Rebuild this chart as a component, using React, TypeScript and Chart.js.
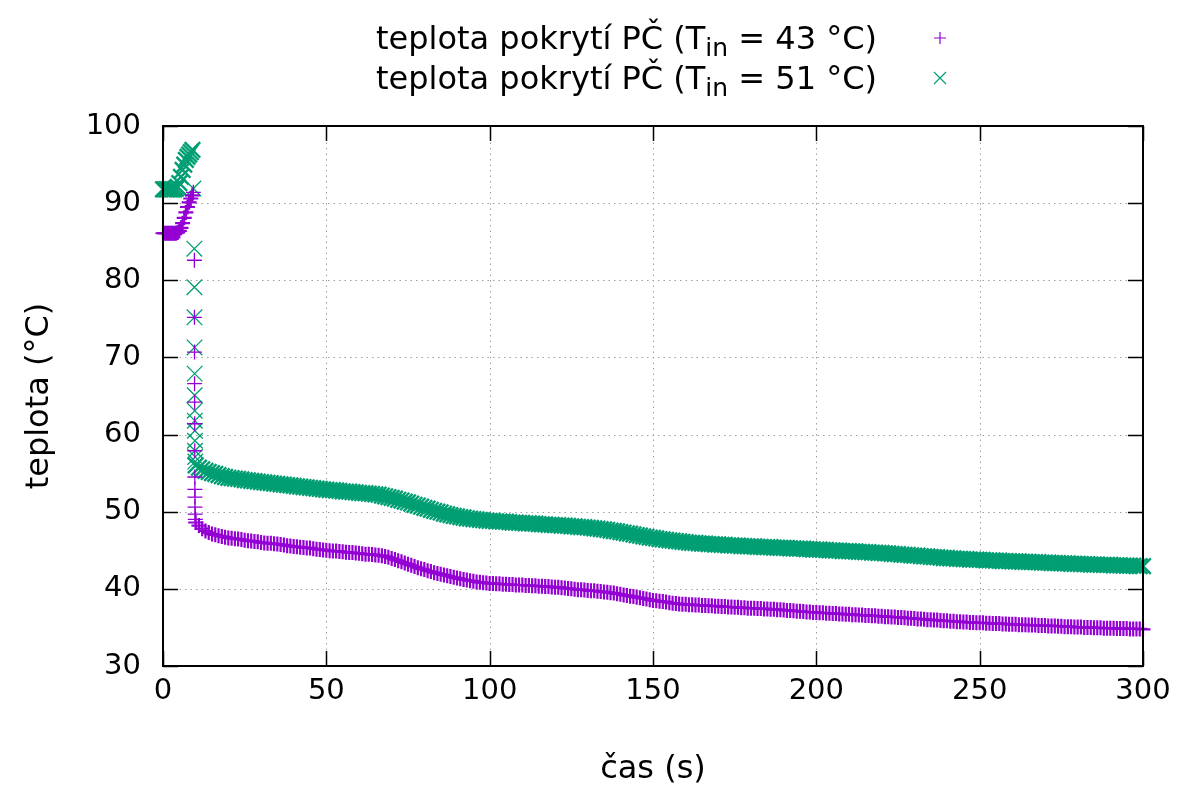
import React, { useEffect, useRef } from 'react';
import { Chart, registerables } from 'chart.js';

Chart.register(...registerables);

const FONT_FAMILY = '"DejaVu Sans", sans-serif';
const TICK_SIZE = 29;
const TEXT_SIZE = 32;

const COLOR_43 = '#9400d3';
const COLOR_51 = '#009e73';

const seriesLabels = [
  { pre: 'teplota pokrytí PČ (T', sub: 'in', post: ' = 43 °C)' },
  { pre: 'teplota pokrytí PČ (T', sub: 'in', post: ' = 51 °C)' },
];

const xTitle = 'čas (s)';
const yTitle = 'teplota (°C)';

const xTicks = [0, 50, 100, 150, 200, 250, 300];
const yTicks = [30, 40, 50, 60, 70, 80, 90, 100];

// time (s) before the drop
const earlyTimes = [0, 0.5, 1, 1.5, 2, 2.5, 3, 3.5, 4, 4.5, 5, 5.5, 6, 6.5, 7, 7.5, 8, 8.5, 9];
// time (s) of the fast drop
const dropTimes = [9.3, 9.6, 9.62, 9.64, 9.66, 9.68, 9.7, 9.72, 9.74, 9.76, 9.78, 9.8, 9.85, 9.9];
// time (s) after the drop
const mainTimes = [
  10, 11, 12, 13, 14, 15, 16, 17, 18, 19,
  20, 21, 22, 23, 24, 25, 26, 27, 28, 29,
  30, 31, 32, 33, 34, 35, 36, 37, 38, 39,
  40, 41, 42, 43, 44, 45, 46, 47, 48, 49,
  50, 51, 52, 53, 54, 55, 56, 57, 58, 59,
  60, 61, 62, 63, 64, 65, 66, 67, 68, 69,
  70, 71, 72, 73, 74, 75, 76, 77, 78, 79,
  80, 81, 82, 83, 84, 85, 86, 87, 88, 89,
  90, 91, 92, 93, 94, 95, 96, 97, 98, 99,
  100, 101, 102, 103, 104, 105, 106, 107, 108, 109,
  110, 111, 112, 113, 114, 115, 116, 117, 118, 119,
  120, 121, 122, 123, 124, 125, 126, 127, 128, 129,
  130, 131, 132, 133, 134, 135, 136, 137, 138, 139,
  140, 141, 142, 143, 144, 145, 146, 147, 148, 149,
  150, 151, 152, 153, 154, 155, 156, 157, 158, 159,
  160, 161, 162, 163, 164, 165, 166, 167, 168, 169,
  170, 171, 172, 173, 174, 175, 176, 177, 178, 179,
  180, 181, 182, 183, 184, 185, 186, 187, 188, 189,
  190, 191, 192, 193, 194, 195, 196, 197, 198, 199,
  200, 201, 202, 203, 204, 205, 206, 207, 208, 209,
  210, 211, 212, 213, 214, 215, 216, 217, 218, 219,
  220, 221, 222, 223, 224, 225, 226, 227, 228, 229,
  230, 231, 232, 233, 234, 235, 236, 237, 238, 239,
  240, 241, 242, 243, 244, 245, 246, 247, 248, 249,
  250, 251, 252, 253, 254, 255, 256, 257, 258, 259,
  260, 261, 262, 263, 264, 265, 266, 267, 268, 269,
  270, 271, 272, 273, 274, 275, 276, 277, 278, 279,
  280, 281, 282, 283, 284, 285, 286, 287, 288, 289,
  290, 291, 292, 293, 294, 295, 296, 297, 298, 299,
  300,
];

// T_in = 43 °C
const early43 = [86.1, 86.1, 86.1, 86.1, 86.1, 86.1, 86.1, 86.1, 86.1, 86.2, 86.4, 86.8, 87.4, 88.1, 88.8, 89.5, 90.1, 90.6, 91.0];
const drop43 = [91.4, 82.6, 75.2, 70.7, 66.6, 64.2, 61.4, 57.9, 54.5, 52.9, 51.9, 50.6, 49.7, 49.0];
const main43 = [
  48.6, 48.2, 47.8, 47.5, 47.3, 47.1, 47.0, 46.9, 46.8, 46.7,
  46.6, 46.55, 46.5, 46.45, 46.4, 46.3, 46.25, 46.2, 46.15, 46.1,
  46.0, 45.95, 45.9, 45.9, 45.85, 45.8, 45.75, 45.7, 45.6, 45.55,
  45.5, 45.45, 45.4, 45.35, 45.3, 45.3, 45.2, 45.15, 45.1, 45.05,
  45.0, 44.95, 44.9, 44.9, 44.85, 44.8, 44.75, 44.7, 44.7, 44.65,
  44.6, 44.55, 44.5, 44.5, 44.45, 44.4, 44.35, 44.3, 44.2, 44.1,
  43.95, 43.8, 43.65, 43.5, 43.35, 43.2, 43.05, 42.9, 42.75, 42.6,
  42.5, 42.35, 42.25, 42.1, 42.0, 41.9, 41.8, 41.7, 41.6, 41.5,
  41.4, 41.3, 41.2, 41.15, 41.05, 41.0, 40.9, 40.85, 40.8, 40.75,
  40.7, 40.7, 40.65, 40.65, 40.6, 40.6, 40.55, 40.55, 40.5, 40.5,
  40.5, 40.45, 40.45, 40.4, 40.4, 40.35, 40.35, 40.3, 40.3, 40.25,
  40.2, 40.2, 40.15, 40.1, 40.05, 40.0, 39.95, 39.9, 39.9, 39.85,
  39.8, 39.75, 39.75, 39.7, 39.65, 39.6, 39.55, 39.5, 39.45, 39.35,
  39.3, 39.2, 39.15, 39.05, 39.0, 38.9, 38.85, 38.75, 38.7, 38.6,
  38.5, 38.45, 38.4, 38.35, 38.3, 38.2, 38.15, 38.1, 38.05, 38.0,
  38.0, 37.95, 37.95, 37.9, 37.9, 37.85, 37.85, 37.8, 37.8, 37.75,
  37.75, 37.7, 37.7, 37.65, 37.65, 37.6, 37.6, 37.55, 37.55, 37.5,
  37.5, 37.5, 37.45, 37.45, 37.4, 37.4, 37.35, 37.35, 37.3, 37.3,
  37.25, 37.2, 37.2, 37.15, 37.1, 37.1, 37.05, 37.0, 37.0, 36.95,
  36.95, 36.9, 36.9, 36.85, 36.85, 36.8, 36.8, 36.75, 36.75, 36.7,
  36.7, 36.65, 36.65, 36.6, 36.6, 36.55, 36.55, 36.5, 36.5, 36.45,
  36.45, 36.4, 36.4, 36.35, 36.35, 36.3, 36.3, 36.25, 36.2, 36.2,
  36.15, 36.1, 36.1, 36.05, 36.0, 36.0, 35.95, 35.95, 35.9, 35.85,
  35.85, 35.8, 35.8, 35.75, 35.75, 35.7, 35.7, 35.65, 35.65, 35.6,
  35.6, 35.6, 35.55, 35.55, 35.5, 35.5, 35.5, 35.45, 35.45, 35.4,
  35.4, 35.4, 35.35, 35.35, 35.35, 35.3, 35.3, 35.3, 35.25, 35.25,
  35.25, 35.2, 35.2, 35.2, 35.15, 35.15, 35.1, 35.1, 35.1, 35.05,
  35.05, 35.05, 35.0, 35.0, 35.0, 34.95, 34.95, 34.95, 34.9, 34.9,
  34.9, 34.9, 34.85, 34.85, 34.85, 34.85, 34.8, 34.8, 34.8, 34.8,
  34.75,
];

// T_in = 51 °C
const early51 = [91.8, 91.8, 91.8, 91.8, 91.8, 91.8, 91.8, 91.8, 91.9, 92.1, 92.6, 93.4, 94.3, 95.0, 95.6, 96.0, 96.3, 96.6, 96.9];
const drop51 = [91.9, 84.1, 79.1, 75.2, 71.3, 67.9, 65.1, 63.1, 61.8, 60.5, 59.2, 57.9, 57.1, 56.5];
const main51 = [
  56.0, 55.7, 55.5, 55.3, 55.15, 55.0, 54.9, 54.75, 54.6, 54.5,
  54.4, 54.35, 54.3, 54.25, 54.2, 54.1, 54.05, 54.0, 53.95, 53.9,
  53.85, 53.8, 53.75, 53.7, 53.65, 53.6, 53.55, 53.5, 53.45, 53.4,
  53.35, 53.3, 53.25, 53.2, 53.15, 53.1, 53.05, 53.0, 52.95, 52.9,
  52.85, 52.8, 52.8, 52.75, 52.7, 52.65, 52.6, 52.6, 52.55, 52.5,
  52.45, 52.4, 52.4, 52.35, 52.3, 52.25, 52.2, 52.1, 52.0, 51.9,
  51.8, 51.7, 51.55, 51.45, 51.3, 51.2, 51.05, 50.9, 50.8, 50.65,
  50.5, 50.4, 50.25, 50.1, 50.0, 49.9, 49.75, 49.65, 49.55, 49.45,
  49.4, 49.3, 49.25, 49.15, 49.1, 49.05, 49.0, 48.95, 48.9, 48.85,
  48.8, 48.8, 48.75, 48.75, 48.7, 48.7, 48.65, 48.6, 48.6, 48.55,
  48.55, 48.5, 48.5, 48.45, 48.45, 48.4, 48.35, 48.35, 48.3, 48.3,
  48.25, 48.25, 48.2, 48.2, 48.15, 48.1, 48.1, 48.05, 48.0, 48.0,
  47.95, 47.9, 47.85, 47.8, 47.75, 47.7, 47.65, 47.55, 47.5, 47.45,
  47.35, 47.3, 47.2, 47.15, 47.05, 46.95, 46.9, 46.8, 46.75, 46.65,
  46.6, 46.55, 46.45, 46.4, 46.35, 46.3, 46.25, 46.2, 46.15, 46.1,
  46.05, 46.0, 45.95, 45.95, 45.9, 45.85, 45.85, 45.8, 45.8, 45.75,
  45.75, 45.7, 45.7, 45.65, 45.65, 45.6, 45.6, 45.55, 45.55, 45.5,
  45.5, 45.5, 45.45, 45.45, 45.4, 45.4, 45.4, 45.35, 45.35, 45.3,
  45.3, 45.3, 45.25, 45.25, 45.2, 45.2, 45.2, 45.15, 45.15, 45.1,
  45.1, 45.1, 45.05, 45.05, 45.0, 45.0, 44.95, 44.95, 44.9, 44.9,
  44.9, 44.85, 44.85, 44.8, 44.8, 44.75, 44.75, 44.7, 44.7, 44.65,
  44.65, 44.6, 44.6, 44.55, 44.5, 44.5, 44.45, 44.4, 44.4, 44.35,
  44.3, 44.3, 44.25, 44.2, 44.2, 44.15, 44.1, 44.1, 44.05, 44.0,
  44.0, 43.95, 43.95, 43.9, 43.9, 43.85, 43.85, 43.8, 43.8, 43.8,
  43.75, 43.75, 43.7, 43.7, 43.7, 43.65, 43.65, 43.6, 43.6, 43.6,
  43.55, 43.55, 43.55, 43.5, 43.5, 43.5, 43.45, 43.45, 43.45, 43.4,
  43.4, 43.4, 43.35, 43.35, 43.35, 43.3, 43.3, 43.3, 43.25, 43.25,
  43.25, 43.2, 43.2, 43.2, 43.15, 43.15, 43.15, 43.1, 43.1, 43.1,
  43.1, 43.05, 43.05, 43.05, 43.0, 43.0, 43.0, 43.0, 42.95, 42.95,
  42.95,
];

function toPoints(times: number[], values: number[]) {
  return times.map((t, i) => ({ x: t, y: values[i] }));
}

const points43 = [
  ...toPoints(earlyTimes, early43),
  ...toPoints(dropTimes, drop43),
  ...toPoints(mainTimes, main43),
];
const points51 = [
  ...toPoints(earlyTimes, early51),
  ...toPoints(dropTimes, drop51),
  ...toPoints(mainTimes, main51),
];

const dropStart = earlyTimes.length;
const dropEnd = earlyTimes.length + dropTimes.length;

// isolated markers of the fast drop are drawn with a thin pen, dense parts with a thicker one
const penWidth = (thin: number, thick: number) => (c: any) =>
  c.dataIndex >= dropStart && c.dataIndex < dropEnd ? thin : thick;

const font = (size: number) => `${size}px ${FONT_FAMILY}`;

const gnuplotPlugin = {
  id: 'gnuplotFrame',
  beforeDatasetsDraw(chart: any) {
    const { ctx, chartArea } = chart;
    const xs = chart.scales.x;
    const ys = chart.scales.y;
    ctx.save();
    ctx.strokeStyle = '#a0a0a0';
    ctx.lineWidth = 1;
    ctx.setLineDash([1.5, 4]);
    xTicks.forEach((v) => {
      if (v === xTicks[0] || v === xTicks[xTicks.length - 1]) return;
      const px = Math.round(xs.getPixelForValue(v)) + 0.5;
      ctx.beginPath();
      ctx.moveTo(px, chartArea.top);
      ctx.lineTo(px, chartArea.bottom);
      ctx.stroke();
    });
    yTicks.forEach((v) => {
      if (v === yTicks[0] || v === yTicks[yTicks.length - 1]) return;
      const py = Math.round(ys.getPixelForValue(v)) + 0.5;
      ctx.beginPath();
      ctx.moveTo(chartArea.left, py);
      ctx.lineTo(chartArea.right, py);
      ctx.stroke();
    });
    ctx.restore();
  },
  afterDatasetsDraw(chart: any) {
    const { ctx, chartArea } = chart;
    const xs = chart.scales.x;
    const ys = chart.scales.y;
    const { left, right, top, bottom } = chartArea;
    const tickLen = 15;
    ctx.save();
    ctx.setLineDash([]);
    ctx.strokeStyle = '#000';
    ctx.lineWidth = 1.5;
    xTicks.forEach((v) => {
      const px = Math.round(xs.getPixelForValue(v)) + 0.5;
      ctx.beginPath();
      ctx.moveTo(px, bottom);
      ctx.lineTo(px, bottom - tickLen);
      ctx.moveTo(px, top);
      ctx.lineTo(px, top + tickLen);
      ctx.stroke();
    });
    yTicks.forEach((v) => {
      const py = Math.round(ys.getPixelForValue(v)) + 0.5;
      ctx.beginPath();
      ctx.moveTo(left, py);
      ctx.lineTo(left + tickLen, py);
      ctx.moveTo(right, py);
      ctx.lineTo(right - tickLen, py);
      ctx.stroke();
    });
    ctx.lineWidth = 2;
    ctx.strokeRect(left, top, right - left, bottom - top);

    // legend (gnuplot style: text right-aligned, sample on the right)
    const textRight = 877;
    const sampleX = 940;
    const rowY = [38, 78];
    const subSize = Math.round(TEXT_SIZE * 0.78);
    ctx.fillStyle = '#000';
    ctx.textBaseline = 'alphabetic';
    seriesLabels.forEach((lab, i) => {
      const baseline = rowY[i] + 11;
      ctx.font = font(TEXT_SIZE);
      const wPre = ctx.measureText(lab.pre).width;
      const wPost = ctx.measureText(lab.post).width;
      ctx.font = font(subSize);
      const wSub = ctx.measureText(lab.sub).width;
      let x = textRight - (wPre + wSub + wPost);
      ctx.textAlign = 'left';
      ctx.font = font(TEXT_SIZE);
      ctx.fillText(lab.pre, x, baseline);
      x += wPre;
      ctx.font = font(subSize);
      ctx.fillText(lab.sub, x, baseline + 7);
      x += wSub;
      ctx.font = font(TEXT_SIZE);
      ctx.fillText(lab.post, x, baseline);
    });
    // samples
    ctx.lineWidth = 1.2;
    ctx.strokeStyle = COLOR_43;
    ctx.beginPath();
    ctx.moveTo(sampleX - 6, rowY[0]);
    ctx.lineTo(sampleX + 6, rowY[0]);
    ctx.moveTo(sampleX, rowY[0] - 6);
    ctx.lineTo(sampleX, rowY[0] + 6);
    ctx.stroke();
    ctx.strokeStyle = COLOR_51;
    ctx.beginPath();
    ctx.moveTo(sampleX - 6, rowY[1] - 6);
    ctx.lineTo(sampleX + 6, rowY[1] + 6);
    ctx.moveTo(sampleX + 6, rowY[1] - 6);
    ctx.lineTo(sampleX - 6, rowY[1] + 6);
    ctx.stroke();
    ctx.restore();
  },
};

export default function App() {
  const canvasRef = useRef<HTMLCanvasElement | null>(null);

  useEffect(() => {
    const canvas = canvasRef.current;
    if (!canvas) return;
    const tickFont = { family: FONT_FAMILY, size: TICK_SIZE };
    const titleFont = { family: FONT_FAMILY, size: TEXT_SIZE };
    const chart = new Chart(canvas, {
      type: 'scatter',
      data: {
        datasets: [
          {
            label: seriesLabels[0].pre + seriesLabels[0].sub + seriesLabels[0].post,
            data: points43,
            pointStyle: 'cross',
            pointRadius: 7.5,
            pointBorderWidth: penWidth(1.3, 2.2),
            borderColor: COLOR_43,
            backgroundColor: COLOR_43,
            showLine: false,
            clip: false,
          } as any,
          {
            label: seriesLabels[1].pre + seriesLabels[1].sub + seriesLabels[1].post,
            data: points51,
            pointStyle: 'crossRot',
            pointRadius: 11,
            pointBorderWidth: penWidth(1.3, 2.4),
            borderColor: COLOR_51,
            backgroundColor: COLOR_51,
            showLine: false,
            clip: false,
          } as any,
        ],
      },
      options: {
        animation: false,
        responsive: false,
        events: [],
        layout: { padding: { top: 126, right: 46, left: 0, bottom: 0 } },
        plugins: {
          legend: { display: false },
          tooltip: { enabled: false },
        },
        scales: {
          x: {
            type: 'linear',
            min: xTicks[0],
            max: xTicks[xTicks.length - 1],
            afterBuildTicks: (s: any) => {
              s.ticks = xTicks.map((v) => ({ value: v }));
            },
            ticks: { font: tickFont, color: '#000', padding: 8, maxRotation: 0 },
            grid: { display: false, drawTicks: false },
            border: { display: false },
            title: {
              display: true,
              text: xTitle,
              font: titleFont,
              color: '#000',
              padding: { top: 0, bottom: 0 },
            },
            afterFit: (s: any) => {
              s.height = 123;
            },
          },
          y: {
            type: 'linear',
            min: yTicks[0],
            max: yTicks[yTicks.length - 1],
            afterBuildTicks: (s: any) => {
              s.ticks = yTicks.map((v) => ({ value: v }));
            },
            ticks: { font: tickFont, color: '#000', padding: 22 },
            grid: { display: false, drawTicks: false },
            border: { display: false },
            title: {
              display: true,
              text: yTitle,
              font: titleFont,
              color: '#000',
              padding: { top: 20, bottom: 0 },
            },
            afterFit: (s: any) => {
              s.width = 163;
            },
          },
        },
      },
      plugins: [gnuplotPlugin],
    });
    return () => chart.destroy();
  }, []);

  return (
    <div style={{ position: 'fixed', left: 0, top: 0, width: 1189, height: 789, background: '#fff' }}>
      <canvas ref={canvasRef} width={1189} height={789} style={{ display: 'block' }} />
    </div>
  );
}
